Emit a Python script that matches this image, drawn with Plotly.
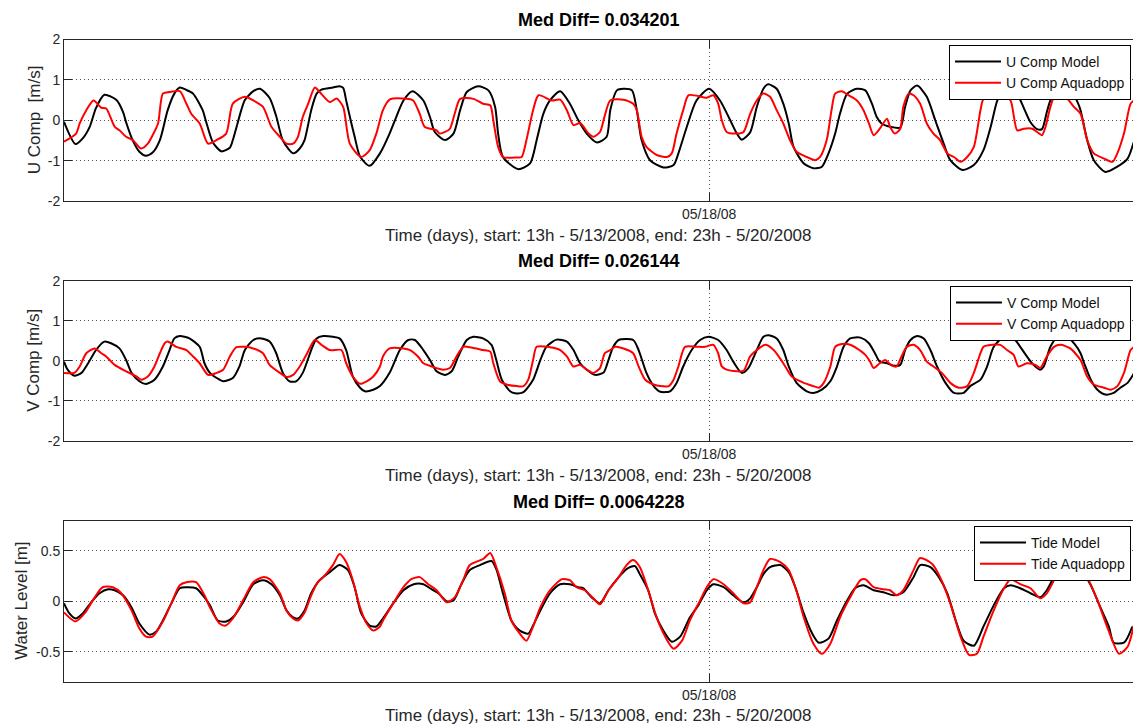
import plotly.graph_objects as go

# Hours since 13h on 5/13/2008, with the observed/modelled values at each sample.
u_model_t = [0.0, 1.9, 3.1, 4.3, 5.3, 6.7, 8.7, 9.8, 10.3, 11.4, 12.5, 13.6, 14.7, 15.9, 17.2, 18.3, 19.2, 20.3, 21.4, 23.0, 23.5, 24.7, 26.1, 27.5, 28.0, 29.4, 30.0, 31.4, 32.5, 34.1, 35.2, 36.3, 38.0, 39.1, 39.9, 41.0, 41.9, 42.7, 44.6, 45.7, 46.3, 46.8, 47.7, 48.2, 49.1, 50.7, 52.4, 54.0, 55.1, 56.3, 57.8, 59.6, 60.7, 61.5, 63.2, 64.6, 65.7, 66.8, 68.7, 70.4, 71.5, 72.0, 72.8, 75.3, 77.3, 78.4, 79.5, 80.6, 82.3, 83.9, 85.3, 86.7, 88.4, 90.0, 90.6, 91.7, 92.8, 94.2, 95.0, 95.8, 97.2, 99.4, 101.1, 101.9, 103.3, 104.9, 107.0, 108.8, 110.5, 111.6, 112.4, 113.8, 114.9, 116.0, 116.8, 118.2, 119.3, 120.2, 121.0, 122.7, 124.3, 125.7, 126.8, 127.9, 128.7, 129.9, 131.5, 132.9, 134.0, 134.8, 135.6, 137.0, 138.7, 139.5, 140.4, 141.5, 143.1, 144.5, 145.9, 147.0, 149.0, 150.9, 152.5, 153.7, 154.8, 155.9, 157.0, 158.1, 159.2, 160.3, 161.4, 162.2, 163.0, 163.6, 164.7, 165.8, 166.9, 168.1, 168.6, 169.7, 170.8, 172.7, 174.7, 176.4, 177.4]
u_model = [-0.04, -0.59, -0.45, -0.15, 0.30, 0.63, 0.50, 0.20, -0.05, -0.50, -0.78, -0.88, -0.80, -0.49, 0.25, 0.66, 0.81, 0.75, 0.66, 0.25, 0.00, -0.55, -0.77, -0.68, -0.49, 0.25, 0.50, 0.72, 0.78, 0.55, 0.10, -0.50, -0.82, -0.70, -0.49, 0.25, 0.66, 0.76, 0.81, 0.84, 0.80, 0.49, -0.10, -0.40, -0.90, -1.13, -0.82, -0.33, 0.08, 0.49, 0.72, 0.49, 0.08, -0.29, -0.49, -0.33, 0.25, 0.70, 0.84, 0.74, 0.33, -0.33, -0.91, -1.21, -1.07, -0.49, 0.16, 0.49, 0.72, 0.41, 0.00, -0.33, -0.55, -0.41, 0.25, 0.74, 0.78, 0.74, 0.25, -0.49, -0.99, -1.17, -1.11, -0.82, -0.16, 0.49, 0.78, 0.49, 0.00, -0.33, -0.48, -0.30, 0.33, 0.78, 0.89, 0.78, 0.41, -0.08, -0.66, -1.07, -1.19, -1.15, -0.82, -0.33, 0.16, 0.66, 0.78, 0.74, 0.41, 0.08, -0.08, -0.16, -0.18, 0.33, 0.74, 0.86, 0.58, 0.00, -0.58, -0.99, -1.23, -1.11, -0.74, -0.16, 0.49, 0.78, 0.86, 0.66, 0.30, -0.05, -0.22, -0.22, 0.20, 0.49, 0.76, 0.86, 0.76, 0.45, 0.25, -0.49, -0.99, -1.28, -1.15, -0.95, -0.55]

u_adcp_t = [0.0, 2.0, 2.6, 3.7, 4.9, 6.2, 7.0, 8.4, 9.2, 10.3, 11.4, 12.8, 13.9, 14.7, 15.6, 16.4, 17.5, 19.2, 20.3, 21.1, 22.5, 23.9, 25.3, 26.9, 28.0, 30.0, 31.4, 33.0, 34.4, 35.8, 36.9, 38.0, 38.8, 39.6, 40.5, 41.6, 42.4, 44.1, 45.2, 46.3, 47.4, 49.3, 50.7, 51.8, 52.9, 54.0, 56.8, 57.9, 59.0, 59.8, 61.8, 62.3, 63.2, 64.0, 64.8, 65.7, 67.9, 69.5, 70.7, 71.2, 72.0, 72.8, 75.1, 75.9, 76.7, 77.8, 78.7, 80.9, 82.3, 83.4, 84.5, 85.6, 87.0, 87.8, 88.9, 89.7, 90.6, 92.8, 94.4, 95.0, 95.8, 96.6, 98.3, 100.0, 100.8, 101.6, 102.7, 103.6, 106.6, 107.7, 108.5, 109.1, 109.9, 111.6, 112.7, 113.8, 114.9, 116.0, 117.1, 118.2, 119.3, 120.4, 121.5, 123.2, 124.6, 125.4, 126.5, 127.3, 127.9, 129.0, 130.1, 131.5, 132.6, 133.5, 134.3, 135.3, 136.5, 137.0, 137.8, 138.7, 139.2, 140.1, 140.9, 142.0, 143.1, 144.2, 145.3, 146.5, 147.6, 148.7, 149.8, 150.9, 152.0, 152.5, 153.7, 155.9, 157.0, 158.1, 159.2, 160.6, 161.4, 162.2, 162.8, 163.6, 164.4, 166.1, 167.5, 168.6, 169.7, 170.8, 172.5, 173.9, 174.7, 175.8, 176.9, 177.5]
u_adcp = [-0.53, -0.33, -0.08, 0.25, 0.49, 0.31, 0.29, -0.16, -0.25, -0.41, -0.49, -0.70, -0.58, -0.37, -0.08, 0.66, 0.70, 0.72, 0.41, 0.16, -0.08, -0.58, -0.49, -0.33, 0.41, 0.58, 0.49, 0.33, -0.16, -0.41, -0.58, -0.58, -0.41, 0.08, 0.41, 0.81, 0.70, 0.45, 0.54, 0.33, -0.58, -0.91, -0.74, -0.33, 0.25, 0.51, 0.53, 0.49, 0.16, -0.16, -0.25, -0.33, -0.29, -0.21, 0.16, 0.53, 0.53, 0.41, 0.37, 0.00, -0.66, -0.91, -0.92, -0.91, -0.49, 0.25, 0.62, 0.49, 0.51, 0.25, -0.12, -0.07, -0.33, -0.41, -0.29, 0.12, 0.49, 0.51, 0.41, 0.25, -0.41, -0.66, -0.86, -0.91, -0.82, -0.33, 0.25, 0.62, 0.56, 0.62, 0.41, 0.00, -0.29, -0.33, -0.29, 0.16, 0.49, 0.66, 0.58, 0.25, -0.08, -0.49, -0.78, -0.91, -0.99, -0.91, -0.49, 0.25, 0.66, 0.72, 0.62, 0.49, 0.25, -0.08, -0.37, -0.21, 0.04, -0.16, -0.33, -0.21, 0.33, 0.66, 0.62, 0.41, -0.08, -0.33, -0.49, -0.82, -0.91, -1.03, -0.91, -0.66, 0.25, 0.53, 0.62, 0.62, 0.49, -0.25, -0.21, -0.21, -0.29, -0.37, -0.16, 0.33, 0.62, 0.58, 0.33, 0.16, -0.49, -0.82, -0.95, -1.03, -0.82, -0.33, 0.41, 0.49]

v_model_t = [0.0, 0.6, 1.7, 2.9, 4.0, 5.3, 6.7, 7.8, 9.2, 10.3, 11.2, 12.5, 13.6, 15.0, 16.4, 17.5, 18.3, 19.2, 20.8, 22.5, 23.3, 24.2, 25.8, 26.4, 28.0, 29.1, 30.0, 31.4, 32.7, 34.1, 35.2, 36.3, 37.4, 38.5, 39.6, 41.0, 41.9, 43.0, 44.6, 45.7, 46.8, 47.9, 49.1, 49.9, 51.3, 52.4, 54.0, 55.7, 57.1, 58.2, 59.6, 60.7, 61.8, 63.2, 64.3, 65.4, 66.8, 67.9, 69.5, 70.9, 71.7, 72.6, 74.0, 74.8, 76.2, 77.8, 79.0, 80.0, 81.7, 83.4, 84.5, 85.6, 86.7, 88.1, 89.5, 90.3, 91.1, 92.0, 94.4, 95.3, 96.6, 97.8, 98.9, 100.5, 101.6, 102.7, 104.1, 105.5, 106.9, 108.5, 109.9, 111.0, 112.4, 113.5, 114.9, 116.0, 116.8, 118.2, 119.3, 120.2, 121.5, 123.2, 124.3, 125.7, 127.1, 128.2, 129.3, 130.4, 132.1, 133.5, 134.5, 135.3, 136.5, 137.6, 138.7, 139.5, 140.4, 141.5, 142.6, 143.7, 144.8, 146.2, 147.6, 149.2, 150.3, 152.0, 153.1, 154.2, 155.9, 157.5, 158.6, 159.7, 160.8, 161.9, 162.5, 163.6, 164.7, 166.4, 167.5, 168.6, 169.2, 170.3, 171.4, 172.7, 174.1, 175.2, 176.4, 177.5]
v_model = [-0.02, -0.22, -0.37, -0.30, -0.06, 0.27, 0.48, 0.44, 0.31, 0.02, -0.30, -0.51, -0.58, -0.47, -0.14, 0.27, 0.56, 0.62, 0.56, 0.35, -0.06, -0.30, -0.47, -0.51, -0.43, -0.14, 0.27, 0.52, 0.56, 0.48, 0.19, -0.30, -0.51, -0.51, -0.30, 0.27, 0.56, 0.62, 0.60, 0.56, 0.27, -0.39, -0.67, -0.76, -0.72, -0.63, -0.30, 0.27, 0.52, 0.52, 0.27, 0.02, -0.26, -0.35, -0.26, 0.11, 0.52, 0.60, 0.56, 0.40, 0.02, -0.47, -0.76, -0.81, -0.78, -0.47, 0.02, 0.35, 0.53, 0.48, 0.27, -0.06, -0.22, -0.35, -0.29, 0.02, 0.35, 0.52, 0.52, 0.27, -0.30, -0.63, -0.77, -0.76, -0.55, -0.14, 0.27, 0.52, 0.60, 0.52, 0.27, -0.02, -0.30, -0.18, 0.27, 0.60, 0.64, 0.56, 0.27, -0.14, -0.55, -0.76, -0.80, -0.72, -0.51, -0.14, 0.35, 0.56, 0.58, 0.44, 0.19, -0.02, -0.06, -0.12, -0.10, 0.27, 0.52, 0.62, 0.56, 0.27, -0.14, -0.55, -0.80, -0.80, -0.63, -0.47, -0.14, 0.35, 0.60, 0.56, 0.35, 0.11, -0.10, -0.22, -0.14, 0.35, 0.58, 0.60, 0.44, 0.19, -0.06, -0.47, -0.72, -0.84, -0.80, -0.67, -0.55, -0.30]

v_adcp_t = [0.0, 1.7, 2.6, 3.7, 5.1, 6.2, 7.0, 8.4, 10.3, 12.0, 12.8, 13.9, 15.0, 15.9, 16.7, 17.2, 18.6, 20.3, 21.4, 22.5, 23.9, 25.3, 26.4, 27.5, 28.6, 30.0, 31.4, 33.0, 34.1, 35.8, 36.9, 38.0, 39.1, 40.2, 41.6, 42.7, 44.1, 46.0, 46.8, 47.9, 49.1, 50.2, 51.3, 52.4, 52.9, 54.0, 56.3, 57.4, 58.7, 59.6, 61.0, 62.9, 64.0, 65.1, 66.2, 67.3, 69.5, 70.7, 71.2, 72.3, 73.4, 75.1, 76.2, 77.0, 77.8, 78.4, 80.6, 82.3, 83.4, 84.5, 85.6, 86.7, 87.8, 88.9, 89.7, 90.6, 91.4, 92.8, 94.4, 95.3, 96.4, 97.8, 98.9, 100.3, 101.1, 101.9, 103.0, 104.9, 106.3, 107.7, 108.5, 109.1, 109.9, 111.6, 112.7, 113.8, 114.9, 116.3, 117.7, 119.3, 120.7, 122.7, 124.3, 125.2, 126.0, 127.1, 127.9, 129.0, 130.4, 131.5, 132.9, 133.7, 134.3, 135.3, 136.2, 137.3, 138.1, 138.9, 139.8, 140.9, 142.0, 143.1, 144.2, 145.6, 147.0, 148.4, 149.8, 150.9, 152.0, 152.5, 153.9, 155.3, 156.4, 157.5, 158.3, 159.7, 161.1, 161.9, 163.0, 164.2, 165.3, 166.9, 168.6, 169.7, 170.8, 172.5, 173.6, 174.7, 175.8, 176.9, 177.5]
v_adcp = [-0.30, -0.30, -0.14, 0.19, 0.31, 0.19, 0.11, -0.10, -0.26, -0.39, -0.47, -0.39, -0.14, 0.19, 0.44, 0.48, 0.35, 0.27, 0.11, -0.06, -0.35, -0.30, -0.22, 0.11, 0.34, 0.35, 0.31, 0.19, -0.10, -0.30, -0.40, -0.35, -0.14, 0.15, 0.52, 0.40, 0.27, 0.27, -0.06, -0.39, -0.57, -0.51, -0.39, -0.14, 0.11, 0.31, 0.31, 0.27, 0.11, -0.06, -0.14, -0.22, -0.18, 0.11, 0.35, 0.34, 0.27, 0.23, -0.06, -0.51, -0.59, -0.63, -0.63, -0.47, 0.02, 0.35, 0.34, 0.27, 0.11, -0.14, -0.10, -0.22, -0.30, -0.18, 0.19, 0.27, 0.35, 0.31, 0.19, -0.14, -0.47, -0.59, -0.63, -0.63, -0.47, -0.14, 0.35, 0.35, 0.35, 0.40, 0.19, -0.14, -0.22, -0.26, -0.25, 0.11, 0.27, 0.40, 0.27, -0.06, -0.39, -0.55, -0.63, -0.67, -0.55, -0.14, 0.35, 0.42, 0.40, 0.31, 0.15, -0.02, -0.18, -0.06, 0.02, -0.12, -0.14, 0.11, 0.35, 0.40, 0.27, -0.02, -0.14, -0.30, -0.55, -0.67, -0.63, -0.30, 0.19, 0.35, 0.40, 0.40, 0.27, 0.15, -0.14, -0.06, -0.10, -0.18, 0.11, 0.35, 0.40, 0.31, 0.02, -0.39, -0.59, -0.67, -0.72, -0.63, -0.30, 0.27, 0.35]

tide_model_t = [0.0, 0.9, 1.9, 3.1, 4.5, 5.9, 7.3, 8.4, 9.8, 11.2, 12.5, 14.2, 15.3, 16.4, 17.8, 19.2, 20.3, 21.9, 23.3, 24.2, 25.5, 26.9, 28.3, 29.7, 31.4, 33.0, 34.4, 35.8, 36.9, 38.0, 38.8, 39.9, 41.0, 42.4, 44.1, 45.7, 47.1, 48.2, 49.3, 50.7, 51.8, 52.9, 54.6, 56.3, 58.0, 59.6, 60.7, 62.1, 63.5, 64.6, 65.9, 67.3, 69.0, 70.9, 71.7, 72.8, 74.2, 75.6, 77.0, 77.8, 79.0, 80.6, 82.3, 83.9, 85.3, 86.1, 87.5, 88.9, 90.3, 92.0, 93.3, 94.7, 95.5, 96.9, 98.0, 99.4, 100.8, 102.2, 103.8, 105.2, 106.6, 107.7, 109.4, 111.0, 112.7, 113.8, 114.9, 116.0, 117.1, 118.8, 120.2, 121.3, 122.7, 124.1, 125.2, 126.8, 128.2, 129.9, 131.2, 132.6, 134.3, 135.9, 137.6, 139.2, 140.9, 142.0, 143.7, 145.1, 146.5, 147.9, 149.2, 150.9, 152.5, 154.2, 155.9, 157.0, 158.6, 160.3, 161.9, 163.0, 164.2, 165.8, 167.2, 168.6, 170.3, 171.9, 173.3, 174.1, 175.8, 177.2]
tide_model = [-0.02, -0.12, -0.17, -0.12, -0.01, 0.08, 0.12, 0.11, 0.06, -0.06, -0.22, -0.33, -0.30, -0.19, -0.02, 0.13, 0.14, 0.13, 0.04, -0.04, -0.19, -0.20, -0.14, -0.01, 0.17, 0.21, 0.17, 0.06, -0.09, -0.16, -0.17, -0.09, 0.08, 0.21, 0.29, 0.36, 0.31, 0.14, -0.12, -0.24, -0.25, -0.17, -0.02, 0.11, 0.17, 0.17, 0.13, 0.08, 0.00, 0.01, 0.17, 0.31, 0.36, 0.40, 0.32, 0.08, -0.19, -0.29, -0.32, -0.24, -0.09, 0.08, 0.17, 0.17, 0.14, 0.13, 0.04, -0.02, 0.11, 0.24, 0.32, 0.35, 0.27, 0.11, -0.12, -0.29, -0.40, -0.35, -0.16, -0.04, 0.11, 0.17, 0.14, 0.06, -0.01, 0.03, 0.14, 0.27, 0.34, 0.36, 0.29, 0.14, -0.12, -0.32, -0.41, -0.37, -0.19, 0.01, 0.13, 0.16, 0.11, 0.09, 0.06, 0.09, 0.24, 0.36, 0.34, 0.24, 0.08, -0.19, -0.39, -0.44, -0.25, -0.04, 0.13, 0.16, 0.13, 0.08, 0.04, 0.11, 0.24, 0.36, 0.40, 0.32, 0.16, -0.06, -0.25, -0.41, -0.41, -0.25]

tide_adcp_t = [0.0, 1.9, 3.4, 5.1, 6.4, 8.1, 9.5, 11.2, 12.5, 13.6, 14.7, 16.4, 17.8, 19.2, 20.3, 21.9, 23.3, 24.2, 25.8, 26.8, 28.0, 29.7, 31.4, 33.0, 34.1, 35.8, 36.9, 38.0, 38.8, 39.9, 41.0, 42.1, 43.0, 44.6, 45.7, 46.8, 47.9, 49.1, 50.2, 51.3, 52.4, 52.9, 54.6, 56.3, 57.6, 59.0, 60.4, 61.8, 63.5, 64.8, 66.2, 67.3, 69.5, 70.7, 71.7, 73.1, 74.2, 75.6, 76.7, 77.8, 79.0, 80.6, 82.6, 83.9, 85.0, 86.4, 87.8, 88.9, 90.3, 92.0, 93.3, 94.4, 95.5, 96.9, 98.3, 99.7, 101.1, 102.5, 103.8, 105.5, 106.6, 107.7, 109.4, 111.0, 112.7, 113.8, 114.9, 116.0, 117.1, 118.8, 120.2, 121.6, 122.7, 124.3, 125.7, 127.1, 128.7, 130.4, 132.1, 132.9, 134.3, 135.9, 137.0, 138.1, 139.2, 140.9, 142.0, 144.0, 145.3, 147.0, 148.7, 150.1, 151.4, 152.5, 154.2, 155.9, 157.0, 158.6, 160.3, 161.9, 163.0, 164.2, 165.6, 166.9, 168.3, 169.7, 171.4, 173.0, 175.0, 176.4, 177.5]
tide_adcp = [-0.11, -0.20, -0.12, 0.04, 0.14, 0.14, 0.08, -0.09, -0.27, -0.35, -0.35, -0.20, -0.02, 0.16, 0.19, 0.19, 0.06, -0.06, -0.22, -0.24, -0.17, 0.01, 0.19, 0.24, 0.22, 0.08, -0.09, -0.17, -0.19, -0.11, 0.06, 0.19, 0.24, 0.36, 0.47, 0.39, 0.21, -0.06, -0.22, -0.29, -0.25, -0.19, -0.02, 0.14, 0.22, 0.24, 0.17, 0.11, -0.01, 0.04, 0.21, 0.36, 0.42, 0.48, 0.34, 0.08, -0.19, -0.32, -0.39, -0.25, -0.06, 0.11, 0.22, 0.21, 0.14, 0.11, 0.03, -0.03, 0.11, 0.24, 0.36, 0.41, 0.34, 0.11, -0.16, -0.35, -0.47, -0.39, -0.19, 0.01, 0.14, 0.22, 0.17, 0.08, -0.02, -0.01, 0.14, 0.31, 0.42, 0.39, 0.31, 0.08, -0.16, -0.42, -0.52, -0.42, -0.16, 0.04, 0.21, 0.22, 0.14, 0.12, 0.11, 0.06, 0.11, 0.31, 0.43, 0.37, 0.24, -0.02, -0.35, -0.53, -0.52, -0.35, -0.09, 0.13, 0.22, 0.17, 0.13, 0.03, 0.08, 0.21, 0.40, 0.48, 0.38, 0.24, 0.01, -0.25, -0.52, -0.45, -0.22]

panel_titles = ["Med Diff= 0.034201", "Med Diff= 0.026144", "Med Diff= 0.0064228"]
y_titles = ["U Comp\u00a0 [m/s]", "V Comp [m/s]", "Water Level [m]"]
legend_names = [("U Comp Model", "U Comp Aquadopp"),
                ("V Comp Model", "V Comp Aquadopp"),
                ("Tide Model", "Tide Aquadopp")]
x_title = "Time (days), start: 13h - 5/13/2008, end: 23h - 5/20/2008"
date_tick_hour = [107]
date_tick_text = ["05/18/08"]
y_ticks = [[-2, -1, 0, 1, 2], [-2, -1, 0, 1, 2], [-0.5, 0, 0.5]]
y_ticktext = [["-2", "-1", "0", "1", "2"], ["-2", "-1", "0", "1", "2"], ["-0.5", "0", "0.5"]]
y_ranges = [[-2, 2], [-2, 2], [-0.8, 0.8]]

series = [(u_model_t, u_model, u_adcp_t, u_adcp),
          (v_model_t, v_model, v_adcp_t, v_adcp),
          (tide_model_t, tide_model, tide_adcp_t, tide_adcp)]

W, H = 1133, 725
L = 64
FONT = "Liberation Sans, Arial, sans-serif"
INK = "#262626"

# pixel rows of each panel (top, bottom)
panel_px = [(39.5, 201), (280.7, 441), (520.7, 682)]
title_px = [20, 261, 502]
xlabel_px = [235, 475, 715]
legend_top_px = [45, 286, 526]
ylabel_x_px = [34, 34, 21.5]


def py(px):
    return 1 - px / H


def px_x(px):
    return (px - L) / (W - L)


fig = go.Figure()
for i, (mt, mv, at, av) in enumerate(series):
    n = i + 1
    xa = "x" if n == 1 else f"x{n}"
    ya = "y" if n == 1 else f"y{n}"
    lg = "legend" if n == 1 else f"legend{n}"
    fig.add_trace(go.Scatter(x=mt, y=mv, name=legend_names[i][0], xaxis=xa, yaxis=ya,
                             legend=lg, mode="lines",
                             line=dict(color="#000000", width=2, shape="spline", smoothing=0.7)))
    fig.add_trace(go.Scatter(x=at, y=av, name=legend_names[i][1], xaxis=xa, yaxis=ya,
                             legend=lg, mode="lines",
                             line=dict(color="#ff0000", width=2, shape="spline", smoothing=0.7)))

layout = dict(width=W, height=H, margin=dict(l=L, r=0, t=0, b=0, autoexpand=False),
              paper_bgcolor="white", plot_bgcolor="white", showlegend=True,
              font=dict(family=FONT, color=INK))

annotations = []
for i in range(3):
    n = i + 1
    sfx = "" if n == 1 else str(n)
    top, bot = panel_px[i]
    layout[f"xaxis{sfx}"] = dict(
        domain=[0, 1], anchor=f"y{sfx}", range=[0, 177.3], automargin=False,
        tickmode="array", tickvals=date_tick_hour, ticktext=date_tick_text,
        ticks="inside", ticklen=8, tickcolor=INK, tickwidth=1,
        showline=True, linecolor=INK, linewidth=1, mirror="ticks",
        showgrid=True, gridcolor="#555555", gridwidth=1, griddash="1px,3px",
        zeroline=False, tickfont=dict(family=FONT, size=14, color=INK),
        fixedrange=True)
    layout[f"yaxis{sfx}"] = dict(
        domain=[py(bot), py(top)], anchor=f"x{sfx}", range=y_ranges[i], automargin=False,
        tickmode="array", tickvals=y_ticks[i], ticktext=y_ticktext[i],
        ticks="inside", ticklen=8, tickcolor=INK, tickwidth=1,
        showline=True, linecolor=INK, linewidth=1, mirror=False,
        showgrid=True, gridcolor="#555555", gridwidth=1, griddash="1px,3px",
        zeroline=False, tickfont=dict(family=FONT, size=14, color=INK),
        ticklabelstandoff=0, fixedrange=True)
    # right-hand tick marks
    layout[f"yaxis{n + 3}"] = dict(
        overlaying=f"y{sfx}", side="right", anchor=f"x{sfx}", range=y_ranges[i],
        automargin=False, tickmode="array", tickvals=y_ticks[i], ticks="inside", ticklen=8,
        tickcolor=INK, showticklabels=False, showgrid=False, showline=False,
        zeroline=False, fixedrange=True)
    lg = "legend" if n == 1 else f"legend{n}"
    layout[lg] = dict(x=px_x(1131), xanchor="right", y=py(legend_top_px[i]), yanchor="top",
                      bgcolor="white", bordercolor="#000000", borderwidth=1,
                      font=dict(family=FONT, size=14, color="#111111"),
                      itemwidth=46, tracegroupgap=0)
    annotations.append(dict(text=f"<b>{panel_titles[i]}</b>", xref="paper", yref="paper",
                            x=0.5, y=py(title_px[i]), xanchor="center", yanchor="middle",
                            showarrow=False, font=dict(family=FONT, size=18, color="#000000")))
    annotations.append(dict(text=x_title, xref="paper", yref="paper",
                            x=0.5, y=py(xlabel_px[i]), xanchor="center", yanchor="middle",
                            showarrow=False, font=dict(family=FONT, size=17, color=INK)))
    annotations.append(dict(text=y_titles[i], xref="paper", yref="paper", textangle=-90,
                            x=px_x(ylabel_x_px[i]), y=py((top + bot) / 2),
                            xanchor="center", yanchor="middle",
                            showarrow=False, font=dict(family=FONT, size=17, color=INK)))

layout["annotations"] = annotations
fig.update_layout(**layout)
fig.write_html("out.html")
